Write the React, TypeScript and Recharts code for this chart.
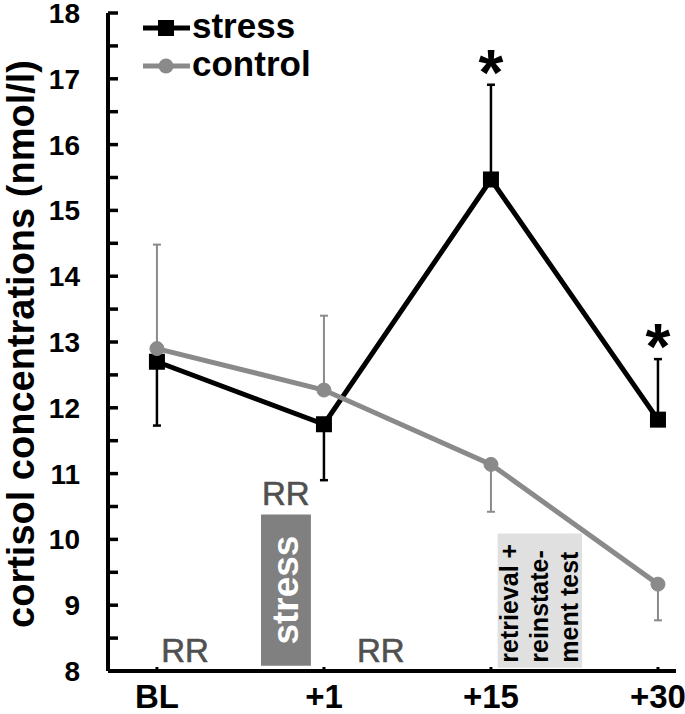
import React from 'react';
import { LineChart, Line, XAxis, YAxis, ErrorBar, ReferenceArea, ReferenceDot, Legend } from 'recharts';

const categories = ['BL', '+1', '+15', '+30'];
const stressMean = [12.7, 11.75, 15.47, 11.82];
const stressErrLow = [0.97, 0.85, 0, 0];
const stressErrHigh = [0, 0, 1.44, 0.92];
const controlMean = [12.9, 12.27, 11.14, 9.32];
const controlErrLow = [0, 0, 0.72, 0.55];
const controlErrHigh = [1.58, 1.13, 0, 0];
const significance = ['', '', '*', '*'];
const yTicks = [8, 8.5, 9, 9.5, 10, 10.5, 11, 11.5, 12, 12.5, 13, 13.5, 14, 14.5, 15, 15.5, 16, 16.5, 17, 17.5, 18];
const xTicks = [0, 1, 2, 3];
const legendOrder = ['stress', 'control'];

const FONT = '"Liberation Sans", Arial, sans-serif';
const STRESS_COLOR = '#000000';
const CONTROL_COLOR = '#8a8a8a';
const YAXIS_WIDTH = 108;

const data = categories.map((c, i) => ({
  x: i,
  label: c,
  stress: stressMean[i],
  control: controlMean[i],
  stressErr: [stressErrLow[i], stressErrHigh[i]],
  controlErr: [controlErrLow[i], controlErrHigh[i]],
}));

const YTick = (props: any) => {
  const { y, payload } = props;
  const x = YAXIS_WIDTH;
  const major = Number.isInteger(payload.value);
  return (
    <g>
      <line x1={x} y1={y} x2={x + 10} y2={y} stroke="#000" strokeWidth={3.5} />
      {major && (
        <text x={x - 28} y={y} dy={10} textAnchor="end" fontSize={28} fontWeight="bold" fontFamily={FONT} fill="#000">
          {payload.value}
        </text>
      )}
    </g>
  );
};

const XTick = (props: any) => {
  const { x, y, payload } = props;
  return (
    <g>
      <line x1={x} y1={y} x2={x} y2={y - 4} stroke="#000" strokeWidth={3} />
      <text x={x} y={y + 37} textAnchor="middle" fontSize={33} fontWeight="bold" fontFamily={FONT} fill="#000">
        {categories[payload.value]}
      </text>
    </g>
  );
};

const SquareDot = (props: any) => {
  const { cx, cy, index } = props;
  if (cx == null || cy == null) return <g key={index} />;
  return <rect key={index} x={cx - 8} y={cy - 8} width={16} height={16} fill={STRESS_COLOR} />;
};

const vb = (p: any) => p.viewBox || p;

const rrLabel = (p: any) => {
  const v = vb(p);
  return (
    <text x={v.x + (v.width || 0) / 2} y={v.y + (v.height || 0) / 2} textAnchor="middle" fontSize={33} fontFamily={FONT} fill="#505050" stroke="#505050" strokeWidth={0.6}>
      RR
    </text>
  );
};

const starLabel = (p: any) => {
  const v = vb(p);
  return (
    <text x={v.x + (v.width || 0) / 2} y={v.y + (v.height || 0) / 2 + 10} textAnchor="middle" fontSize={64} fontWeight="bold" fontFamily={FONT} fill="#000">
      *
    </text>
  );
};

const stressBoxLabel = (p: any) => {
  const v = vb(p);
  const cx = v.x + v.width / 2 + 12;
  const cy = v.y + v.height / 2;
  return (
    <text x={cx} y={cy} transform={`rotate(-90, ${cx}, ${cy})`} textAnchor="middle" fontSize={37} fontWeight="bold" fontFamily={FONT} fill="#ffffff">
      stress
    </text>
  );
};

const retrievalLines = ['retrieval +', 'reinstate-', 'ment test'];
const retrievalBoxLabel = (p: any) => {
  const v = vb(p);
  const by = v.y + v.height - 5;
  return (
    <g>
      {retrievalLines.map((t, i) => {
        const bx = v.x + 20 + i * 30;
        return (
          <text key={i} x={bx} y={by} transform={`rotate(-90, ${bx}, ${by})`} textAnchor="start" fontSize={25} fontWeight="bold" fontFamily={FONT} fill="#000">
            {t}
          </text>
        );
      })}
    </g>
  );
};

const yTitle = (p: any) => {
  const v = vb(p);
  const cx = 34;
  const cy = v.y + v.height / 2 + 2;
  return (
    <text x={cx} y={cy} transform={`rotate(-90, ${cx}, ${cy})`} textAnchor="middle" fontSize={38} fontWeight="bold" fontFamily={FONT} fill="#000">
      cortisol concentrations (nmol/l)
    </text>
  );
};

const LegendContent = (props: any) => {
  const payload = [...(props.payload || [])].sort(
    (a: any, b: any) => legendOrder.indexOf(a.dataKey) - legendOrder.indexOf(b.dataKey)
  );
  return (
    <svg width={220} height={90} style={{ display: 'block' }}>
      {payload.map((item: any, i: number) => {
        const y = 28 + i * 38;
        const color = item.color;
        return (
          <g key={i}>
            <line x1={3} y1={y} x2={50} y2={y} stroke={color} strokeWidth={5} />
            {item.dataKey === 'stress' ? (
              <rect x={18} y={y - 8} width={16} height={16} fill={color} />
            ) : (
              <circle cx={26} cy={y} r={7.5} fill={color} />
            )}
            <text x={52} y={y + 10} fontSize={35} fontWeight="bold" fontFamily={FONT} fill="#000">
              {item.value}
            </text>
          </g>
        );
      })}
    </svg>
  );
};

export default function App() {
  return (
    <div style={{ position: 'absolute', left: 0, top: 0, width: 685, height: 714, background: '#fff' }}>
      <LineChart width={685} height={714} data={data} margin={{ top: 13, right: 9, bottom: 0, left: 0 }}>
        <XAxis
          dataKey="x"
          type="number"
          domain={[-0.293, 3.108]}
          allowDataOverflow
          ticks={xTicks}
          interval={0}
          tick={<XTick />}
          tickLine={false}
          tickSize={0}
          tickMargin={0}
          height={43}
          axisLine={{ stroke: '#000', strokeWidth: 4 }}
        />
        <YAxis
          type="number"
          domain={[8, 18]}
          allowDataOverflow
          ticks={yTicks}
          interval={0}
          tick={<YTick />}
          tickLine={false}
          tickSize={0}
          tickMargin={0}
          width={YAXIS_WIDTH}
          axisLine={{ stroke: '#000', strokeWidth: 4 }}
          label={{ content: yTitle }}
        />
        <ReferenceArea x1={0.623} x2={0.922} y1={8.08} y2={10.38} fill="#808080" fillOpacity={1} stroke="none" label={{ content: stressBoxLabel }} />
        <ReferenceArea x1={2.04} x2={2.545} y1={8.05} y2={10.09} fill="#e0e0e0" fillOpacity={1} stroke="none" label={{ content: retrievalBoxLabel }} />
        <ReferenceDot x={0.168} y={8.13} r={0} fill="none" stroke="none" label={{ content: rrLabel }} />
        <ReferenceDot x={0.772} y={10.52} r={0} fill="none" stroke="none" label={{ content: rrLabel }} />
        <ReferenceDot x={1.34} y={8.13} r={0} fill="none" stroke="none" label={{ content: rrLabel }} />
        {significance.map((s, i) =>
          s ? (
            <ReferenceDot key={i} x={i} y={stressMean[i] + stressErrHigh[i]} r={0} fill="none" stroke="none" label={{ content: starLabel }} />
          ) : null
        )}
        <Legend
          layout="horizontal"
          verticalAlign="middle"
          align="center"
          wrapperStyle={{ position: 'absolute', left: 140, top: 0, width: 220, height: 90 }}
          content={<LegendContent />}
        />
        <Line
          dataKey="stress"
          name="stress"
          stroke={STRESS_COLOR}
          strokeWidth={5}
          dot={<SquareDot />}
          activeDot={false}
          isAnimationActive={false}
        >
          <ErrorBar dataKey="stressErr" direction="y" stroke={STRESS_COLOR} strokeWidth={2.5} width={4} />
        </Line>
        <Line
          dataKey="control"
          name="control"
          stroke={CONTROL_COLOR}
          strokeWidth={5}
          dot={{ r: 7, fill: CONTROL_COLOR, stroke: CONTROL_COLOR, strokeWidth: 1 }}
          activeDot={false}
          isAnimationActive={false}
        >
          <ErrorBar dataKey="controlErr" direction="y" stroke={CONTROL_COLOR} strokeWidth={2} width={4} />
        </Line>
      </LineChart>
    </div>
  );
}
